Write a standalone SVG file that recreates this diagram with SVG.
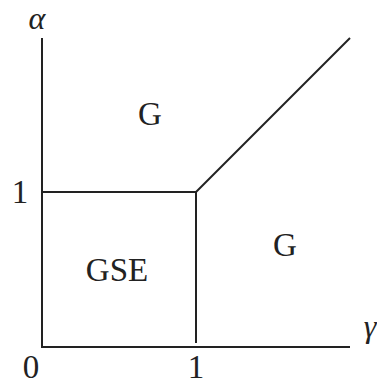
<svg xmlns="http://www.w3.org/2000/svg" width="377" height="385" viewBox="0 0 377 385">
<style>
.ln{stroke:#222;stroke-width:2;fill:none;stroke-linecap:butt}
.t{font-family:"Liberation Serif","Times New Roman",serif;font-size:33px;fill:#222;text-anchor:middle}
.m{font-family:"Liberation Serif","Times New Roman",serif;font-size:32px;font-style:italic;fill:#222;text-anchor:middle}
</style>
<rect width="377" height="385" fill="#fff"/>
<g id="connectors">
<line class="ln" x1="42" y1="38" x2="42" y2="347"/>
<line class="ln" x1="41" y1="347" x2="350" y2="347"/>
<line class="ln" x1="42" y1="192" x2="196" y2="192"/>
<line class="ln" x1="196" y1="192" x2="196" y2="343"/>
<line class="ln" x1="196" y1="192" x2="350" y2="38"/>
</g>
<g id="axis-alpha"><text class="m" x="37" y="29">α</text></g>
<g id="axis-gamma"><text class="m" x="370" y="337">γ</text></g>
<g id="tick-alpha-1"><text class="t" x="20" y="203">1</text></g>
<g id="tick-0"><text class="t" x="31" y="378">0</text></g>
<g id="tick-gamma-1"><text class="t" x="196" y="378">1</text></g>
<g id="region-G-top"><text class="t" x="150" y="125">G</text></g>
<g id="region-GSE"><text class="t" x="117" y="281">GSE</text></g>
<g id="region-G-right"><text class="t" x="285" y="256">G</text></g>
</svg>
